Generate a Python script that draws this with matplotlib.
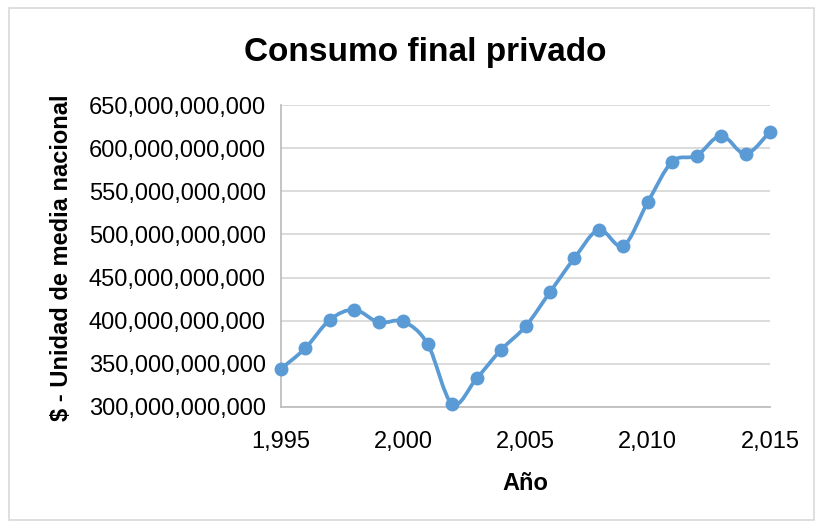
import numpy as np
import matplotlib
matplotlib.use("Agg")
import matplotlib.pyplot as plt
from matplotlib.path import Path
from matplotlib.patches import PathPatch, Rectangle
from matplotlib.ticker import FuncFormatter

# data, values in pesos
years = [1995, 1996, 1997, 1998, 1999, 2000, 2001, 2002, 2003, 2004, 2005,
         2006, 2007, 2008, 2009, 2010, 2011, 2012, 2013, 2014, 2015]
consumo_bn = [344.3, 368.3, 401.1, 412.7, 398.0, 399.1, 372.9, 303.5, 333.1, 366.3, 393.3,
              433.1, 472.5, 505.3, 486.8, 537.3, 584.4, 591.3, 614.5, 593.3, 619.1]
consumo = [v * 1e9 for v in consumo_bn]

title = "Consumo final privado"
xlabel = "Año"
ylabel = "$ - Unidad de media nacional"

blue = "#5B9BD5"
grid_gray = "#D9D9D9"

plt.rcParams["font.family"] = ["Liberation Sans", "DejaVu Sans"]

fig = plt.figure(figsize=(8.2, 5.23), dpi=100)
fig.patches.append(Rectangle((0.011, 0.006), 0.982, 0.979, transform=fig.transFigure,
                             fill=False, edgecolor=grid_gray, linewidth=1.2))
ax = fig.add_axes([281 / 820, 1 - 407 / 523, 489 / 820, 302 / 523])

# smooth line like Excel: cubic bezier segments through the points
x = np.array(years, dtype=float)
y = np.array(consumo, dtype=float)
verts = [(x[0], y[0])]
codes = [Path.MOVETO]
n = len(x)
for i in range(n - 1):
    x0, y0 = (x[i - 1], y[i - 1]) if i > 0 else (x[i], y[i])
    x3, y3 = (x[i + 2], y[i + 2]) if i + 2 < n else (x[i + 1], y[i + 1])
    c1 = (x[i] + (x[i + 1] - x0) / 6, y[i] + (y[i + 1] - y0) / 6)
    c2 = (x[i + 1] - (x3 - x[i]) / 6, y[i + 1] - (y3 - y[i]) / 6)
    verts += [c1, c2, (x[i + 1], y[i + 1])]
    codes += [Path.CURVE4] * 3
ax.add_patch(PathPatch(Path(verts, codes), facecolor="none", edgecolor=blue,
                       linewidth=2.7, zorder=3, clip_on=False))
ax.plot(years, consumo, linestyle="none", marker="o", markersize=9,
        color=blue, zorder=4, clip_on=False)

ax.set_xlim(1995, 2015)
ax.set_ylim(300e9, 650e9)
ax.set_xticks(range(1995, 2016, 5))
ax.set_yticks(np.arange(300e9, 651e9, 50e9))
fmt = FuncFormatter(lambda v, p: f"{v:,.0f}")
ax.xaxis.set_major_formatter(fmt)
ax.yaxis.set_major_formatter(fmt)
ax.tick_params(length=0, labelsize=17, colors="black")
ax.tick_params(axis="x", pad=17)
ax.tick_params(axis="y", pad=11)

ax.grid(axis="y", color=grid_gray, linewidth=1.3)
ax.set_axisbelow(True)
for s in ["top", "right"]:
    ax.spines[s].set_visible(False)
for s in ["left", "bottom"]:
    ax.spines[s].set_color("#BFBFBF")
    ax.spines[s].set_linewidth(1.3)

ax.set_xlabel(xlabel, fontsize=17, fontweight="bold", labelpad=14)
fig.text(62 / 820, 1 - 258 / 523, ylabel, rotation=90, ha="center", va="center",
         fontsize=17, fontweight="bold")
fig.text(425 / 820, 1 - 52 / 523, title, ha="center", va="center",
         fontsize=24, fontweight="bold")

fig.savefig("out.png", dpi=100)
